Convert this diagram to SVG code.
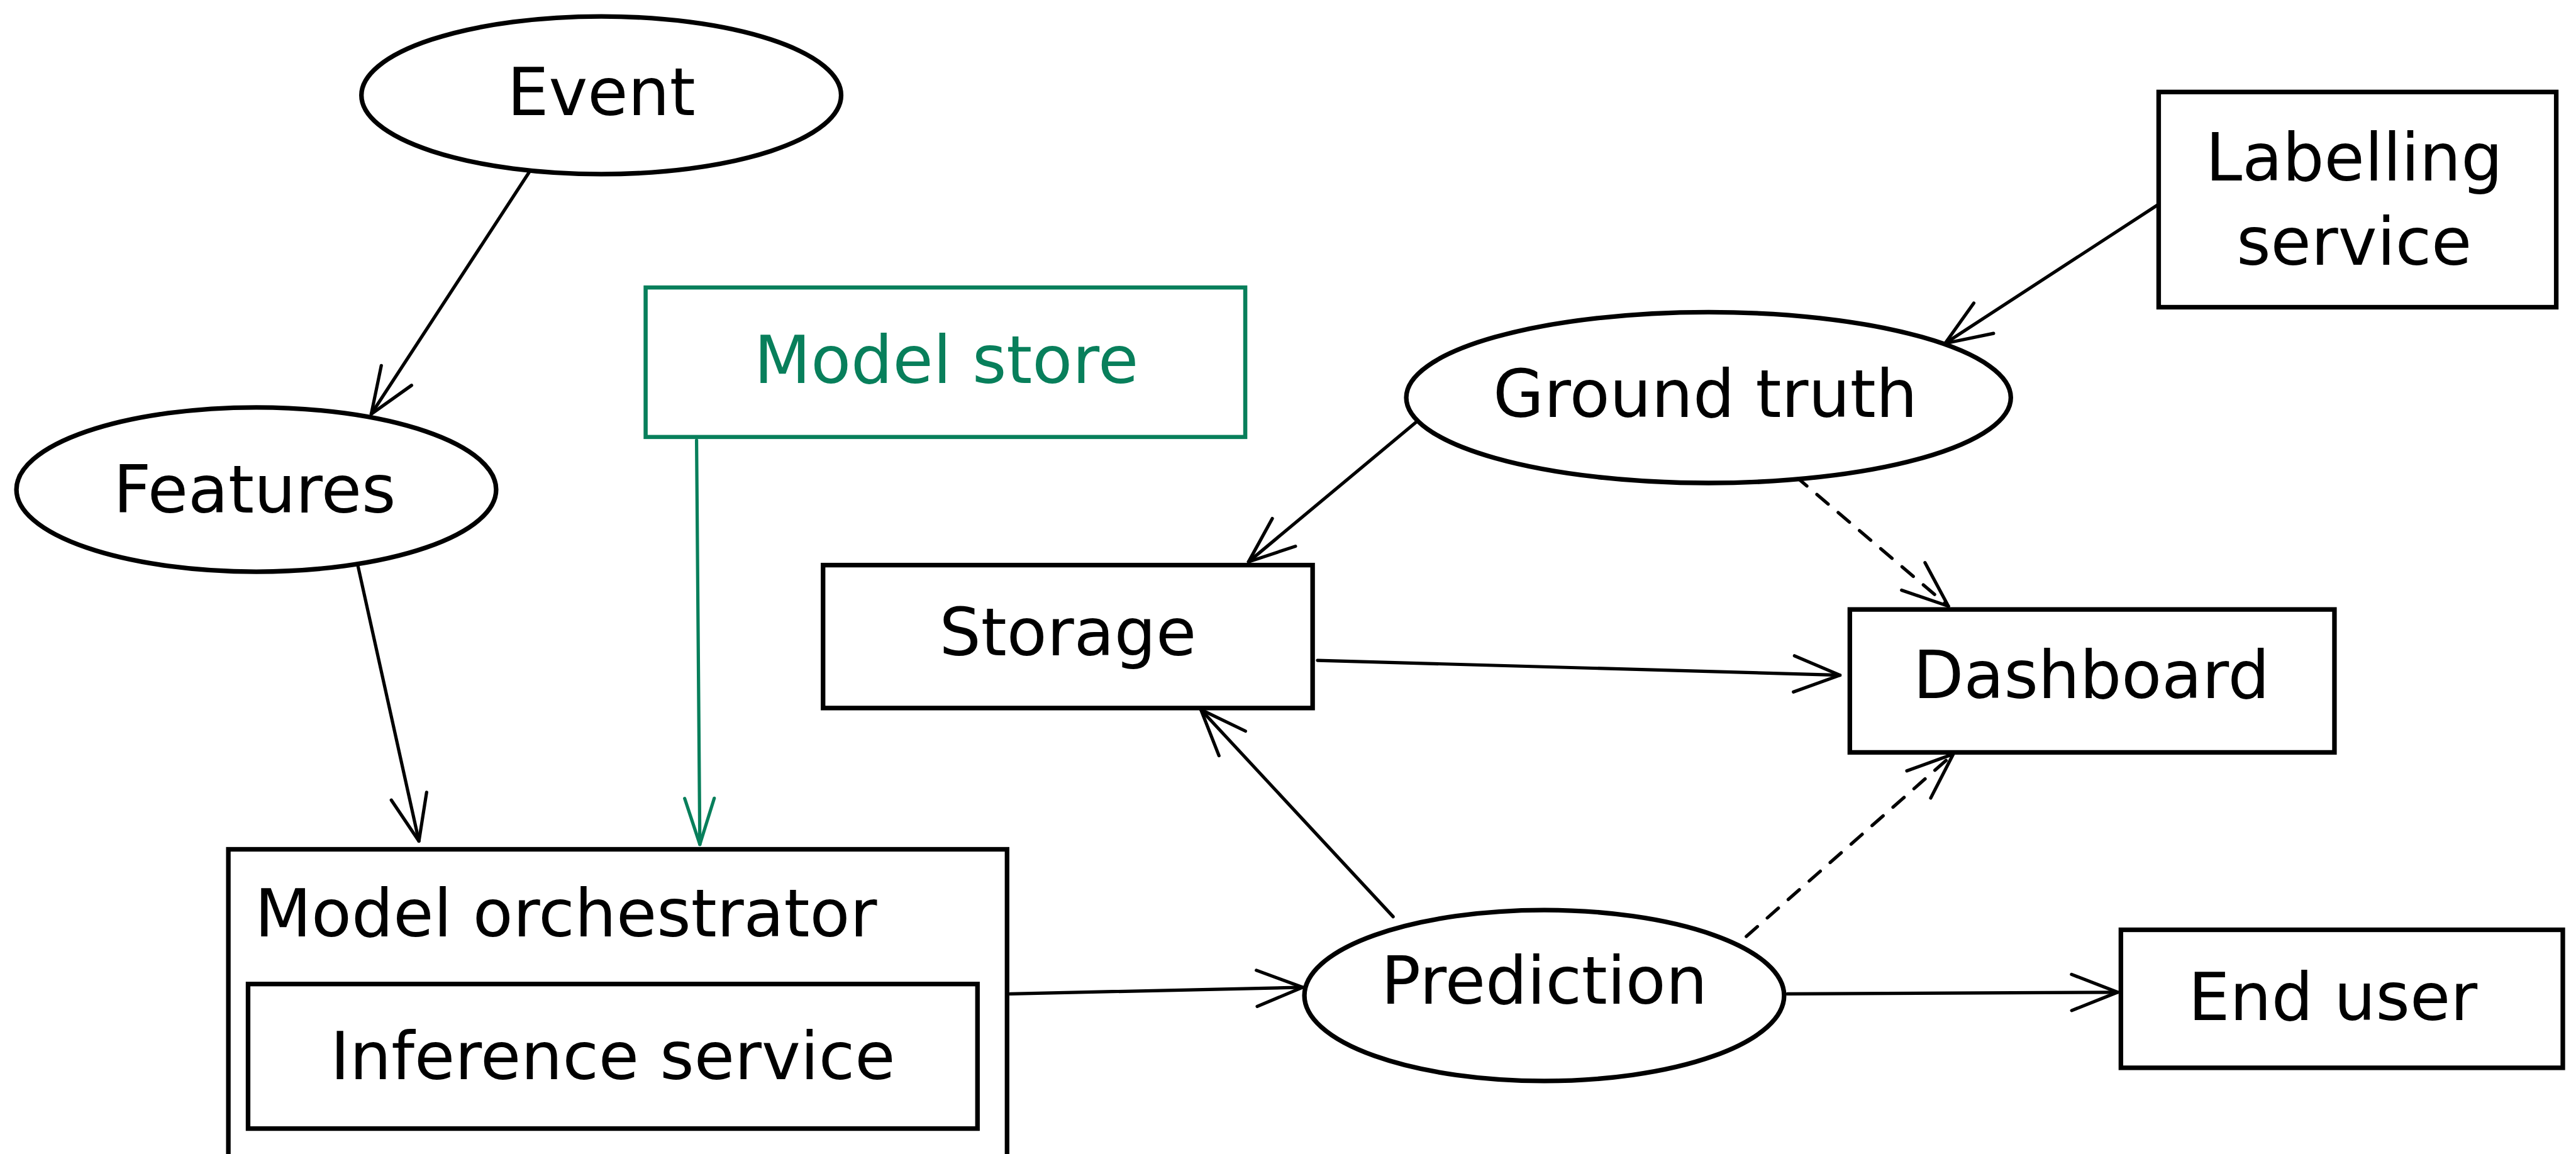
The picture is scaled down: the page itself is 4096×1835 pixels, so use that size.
<svg xmlns="http://www.w3.org/2000/svg" width="4096" height="1835" viewBox="0 0 4096 1835">
  <style>
    .shape { fill: #ffffff; stroke: #000000; stroke-width: 2.8; }
    .green { fill: #ffffff; stroke: #087f5b; stroke-width: 2.5; }
    .lbl { font-family: "DejaVu Sans", "Liberation Sans", sans-serif; font-size: 40px; fill: #000000; }
    .lbl-green { fill: #087f5b; }
    .mid { text-anchor: middle; }
    .edge { fill: none; stroke: #000000; stroke-width: 2; stroke-linecap: round; }
    .edge-green { fill: none; stroke: #087f5b; stroke-width: 2; stroke-linecap: round; }
    .dash { stroke-dasharray: 9 8; }
  </style>
  <defs>
    <marker id="head" markerUnits="userSpaceOnUse" orient="auto" markerWidth="60" markerHeight="60" refX="0" refY="0" viewBox="-40 -30 60 60" overflow="visible">
      <path d="M -28 -11 L 0 0 L -28 11" fill="none" stroke="#000000" stroke-width="2" stroke-linecap="round" stroke-linejoin="round"/>
    </marker>
    <marker id="head-green" markerUnits="userSpaceOnUse" orient="auto" markerWidth="60" markerHeight="60" refX="0" refY="0" viewBox="-40 -30 60 60" overflow="visible">
      <path d="M -28 -9 L 0 0 L -28 9" fill="none" stroke="#087f5b" stroke-width="2" stroke-linecap="round" stroke-linejoin="round"/>
    </marker>
  </defs>
  <rect width="4096" height="1835" fill="#ffffff"/>
  <g transform="scale(2.6122)">
    <!-- connectors -->
    <g id="connectors">
      <path class="edge" d="M 322 105 L 226 252" marker-end="url(#head)"/>
      <path class="edge" d="M 218 345 L 255 512" marker-end="url(#head)" stroke-width="2.6"/>
      <path class="edge-green" d="M 424 268 L 426 514" marker-end="url(#head-green)"/>
      <path class="edge" d="M 1313 125 L 1184 209" marker-end="url(#head)" stroke-width="2.4"/>
      <path class="edge" d="M 862 257 L 760 342" marker-end="url(#head)"/>
      <path class="edge dash" d="M 1093 290 L 1186 369" marker-end="url(#head)"/>
      <path class="edge" d="M 802 402 L 1120 411" marker-end="url(#head)" stroke-width="2.6"/>
      <path class="edge" d="M 848 558 L 731 432" marker-end="url(#head)" stroke-width="2.2"/>
      <path class="edge dash" d="M 1063 570 L 1189 459" marker-end="url(#head)"/>
      <path class="edge" d="M 615 605 L 793 601" marker-end="url(#head)" stroke-width="2.6"/>
      <path class="edge" d="M 1088 605 L 1289 604" marker-end="url(#head)"/>
    </g>

    <!-- nodes -->
    <g id="event">
      <ellipse class="shape" cx="366" cy="58" rx="146" ry="48"/>
      <text class="lbl mid" x="366" y="70">Event</text>
    </g>
    <g id="features">
      <ellipse class="shape" cx="156" cy="298" rx="146" ry="50"/>
      <text class="lbl mid" x="155" y="312">Features</text>
    </g>
    <g id="model-store">
      <rect class="green" x="393" y="175" width="365" height="91"/>
      <text class="lbl lbl-green mid" x="576" y="233">Model store</text>
    </g>
    <g id="labelling-service">
      <rect class="shape" x="1314" y="56" width="242" height="131"/>
      <text class="lbl mid" x="1433" y="110">Labelling</text>
      <text class="lbl mid" x="1433" y="161">service</text>
    </g>
    <g id="ground-truth">
      <ellipse class="shape" cx="1040" cy="242" rx="184" ry="52"/>
      <text class="lbl mid" x="1038" y="254">Ground truth</text>
    </g>
    <g id="storage">
      <rect class="shape" x="501" y="344" width="298" height="87"/>
      <text class="lbl mid" x="650" y="399">Storage</text>
    </g>
    <g id="dashboard">
      <rect class="shape" x="1126" y="371" width="295" height="87"/>
      <text class="lbl mid" x="1273" y="425">Dashboard</text>
    </g>
    <g id="model-orchestrator">
      <rect class="shape" x="139" y="517" width="474" height="190"/>
      <text class="lbl" x="155" y="570">Model orchestrator</text>
      <g id="inference-service">
        <rect class="shape" x="151" y="599" width="444" height="88"/>
        <text class="lbl mid" x="373" y="657">Inference service</text>
      </g>
    </g>
    <g id="prediction">
      <ellipse class="shape" cx="940" cy="606" rx="146" ry="52"/>
      <text class="lbl mid" x="940" y="611">Prediction</text>
    </g>
    <g id="end-user">
      <rect class="shape" x="1291" y="566" width="269" height="84"/>
      <text class="lbl mid" x="1420" y="621">End user</text>
    </g>
  </g>
</svg>
